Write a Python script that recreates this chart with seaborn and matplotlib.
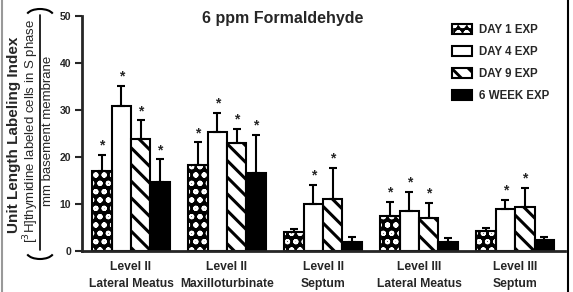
import numpy as np
import pandas as pd
import matplotlib
matplotlib.use('Agg')
import matplotlib.pyplot as plt
from matplotlib.patches import Patch, Rectangle, Arc
from matplotlib.lines import Line2D
import seaborn as sns

sns.set_style("ticks")
plt.rcParams['font.family'] = ['Liberation Sans', 'DejaVu Sans']
plt.rcParams['hatch.linewidth'] = 2.1

# data
sites = ['Level II\nLateral Meatus', 'Level II\nMaxilloturbinate', 'Level II\nSeptum',
         'Level III\nLateral Meatus', 'Level III\nSeptum']
groups = ['DAY 1 EXP', 'DAY 4 EXP', 'DAY 9 EXP', '6 WEEK EXP']

day1 = [17.0, 18.3, 4.0, 7.4, 4.2]
day4 = [30.9, 25.3, 10.0, 8.6, 9.0]
day9 = [23.9, 22.9, 11.1, 7.1, 9.4]
week6 = [14.7, 16.5, 2.0, 1.9, 2.3]

day1_err = [3.4, 4.8, 0.7, 3.0, 0.8]
day4_err = [4.3, 4.0, 4.0, 4.0, 1.9]
day9_err = [3.9, 3.0, 6.6, 3.2, 4.0]
week6_err = [4.8, 8.2, 0.9, 0.8, 0.7]

# significance asterisks
day1_sig = [1, 1, 0, 1, 0]
day4_sig = [1, 1, 1, 1, 1]
day9_sig = [1, 1, 1, 1, 1]
week6_sig = [1, 1, 0, 0, 0]

values = [day1, day4, day9, week6]
errors = [day1_err, day4_err, day9_err, week6_err]
signif = [day1_sig, day4_sig, day9_sig, week6_sig]

rows = []
for g, vals in zip(groups, values):
	for s, v in zip(sites, vals):
		rows.append({'site': s, 'exposure': g, 'value': v})
df = pd.DataFrame(rows)

W, H = 573, 292
fig = plt.figure(figsize=(W/100, H/100), dpi=100)
ax = fig.add_axes([82/W, 1-251/H, (565-82)/W, (251-16)/H])

palette = {'DAY 1 EXP': 'black', 'DAY 4 EXP': 'white', 'DAY 9 EXP': 'white', '6 WEEK EXP': 'black'}
sns.barplot(data=df, x='site', y='value', hue='exposure', palette=palette, width=0.81, gap=0,
			edgecolor='black', linewidth=1.5, errorbar=None, legend=False, ax=ax)

def dots(p):
	# white dots on black
	p.set_edgecolor('white')
	p.set_hatch('oo')
	if hasattr(p, 'set_hatch_linewidth'):
		p.set_hatch_linewidth(1.4)

def stripes(p):
	p.set_hatch('\\\\')
	if hasattr(p, 'set_hatch_linewidth'):
		p.set_hatch_linewidth(2.2)

for bar in ax.containers[0]:
	dots(bar)
	ax.add_patch(Rectangle(bar.get_xy(), bar.get_width(), bar.get_height(), fill=False,
						   edgecolor='black', lw=1.5, zorder=bar.get_zorder()+0.1))
for bar in ax.containers[2]:
	stripes(bar)

# one-sided error bars and asterisks
for cont, vals, errs, sig in zip(ax.containers, values, errors, signif):
	centers = [b.get_x() + b.get_width()/2 for b in cont]
	ax.errorbar(centers, vals, yerr=[np.zeros(len(errs)), errs], fmt='none', ecolor='black',
				elinewidth=1.5, capsize=3, capthick=1.5, zorder=5)
	for c, v, e, s in zip(centers, vals, errs, sig):
		if s:
			ax.text(c, v + e + 0.5, '*', ha='center', va='bottom', fontsize=10, fontweight='bold')

ax.set_ylim(0, 50)
ax.set_xlim(-0.51, 4.52)
ax.set_yticks([0, 10, 20, 30, 40, 50])
ax.set_xlabel('')
ax.set_ylabel('')
sns.despine(ax=ax)
for sp in ['left', 'bottom']:
	ax.spines[sp].set_linewidth(2)
ax.tick_params(axis='y', length=5, width=1.5, pad=3, labelsize=7.5)
ax.tick_params(axis='x', length=0, pad=7, labelsize=8.7)
for lab in ax.get_yticklabels() + ax.get_xticklabels():
	lab.set_fontweight('bold')
for lab in ax.get_xticklabels():
	lab.set_linespacing(1.6)

fig.text(283/W, 1-19/H, '6 ppm Formaldehyde', ha='center', va='center', fontsize=11.5, fontweight='bold')

# legend
h1 = Patch(facecolor='black', edgecolor='white', hatch='oo')
h3 = Patch(facecolor='white', edgecolor='black', lw=1.5, hatch='\\\\')
dots(h1)
stripes(h3)
handles = [(h1, Patch(fill=False, edgecolor='black', lw=1.5)),
		   Patch(facecolor='white', edgecolor='black', lw=1.5),
		   h3,
		   Patch(facecolor='black', edgecolor='black', lw=1.5)]
fig.legend(handles, groups, loc='upper left', bbox_to_anchor=(452/W, 1-24/H), frameon=False,
		   prop={'weight': 'bold', 'size': 8.3}, handlelength=1.75, handleheight=1.0,
		   labelspacing=0.85, handletextpad=0.6, borderpad=0, borderaxespad=0)

# y label with fraction in parentheses
fig.text(14/W, 1-135/H, 'Unit Length Labeling Index', rotation=90, ha='center', va='center',
		 fontsize=11, fontweight='bold')
fig.text(31/W, 1-131/H, '[$^3$H]thymidine labeled cells in S phase', rotation=90, ha='center',
		 va='center', fontsize=9.5)
fig.text(48.5/W, 1-131/H, 'mm basement membrane', rotation=90, ha='center', va='center', fontsize=9.5)
fig.add_artist(Line2D([40/W, 40/W], [1-15/H, 1-250/H], transform=fig.transFigure, color='black', lw=1.2))
fig.add_artist(Arc((40/W, 1-16/H), 27/W, 14/H, theta1=20, theta2=160, transform=fig.transFigure,
				   edgecolor='black', lw=1.5))
fig.add_artist(Arc((40/W, 1-252/H), 27/W, 14/H, theta1=200, theta2=340, transform=fig.transFigure,
				   edgecolor='black', lw=1.5))

# page frame
fig.add_artist(Line2D([1.5/W, 1.5/W], [0, 1], transform=fig.transFigure, color='#999999', lw=1.5))
fig.add_artist(Line2D([568/W, 568/W], [0, 1], transform=fig.transFigure, color='black', lw=1.5))

fig.savefig('out.png', dpi=100)
